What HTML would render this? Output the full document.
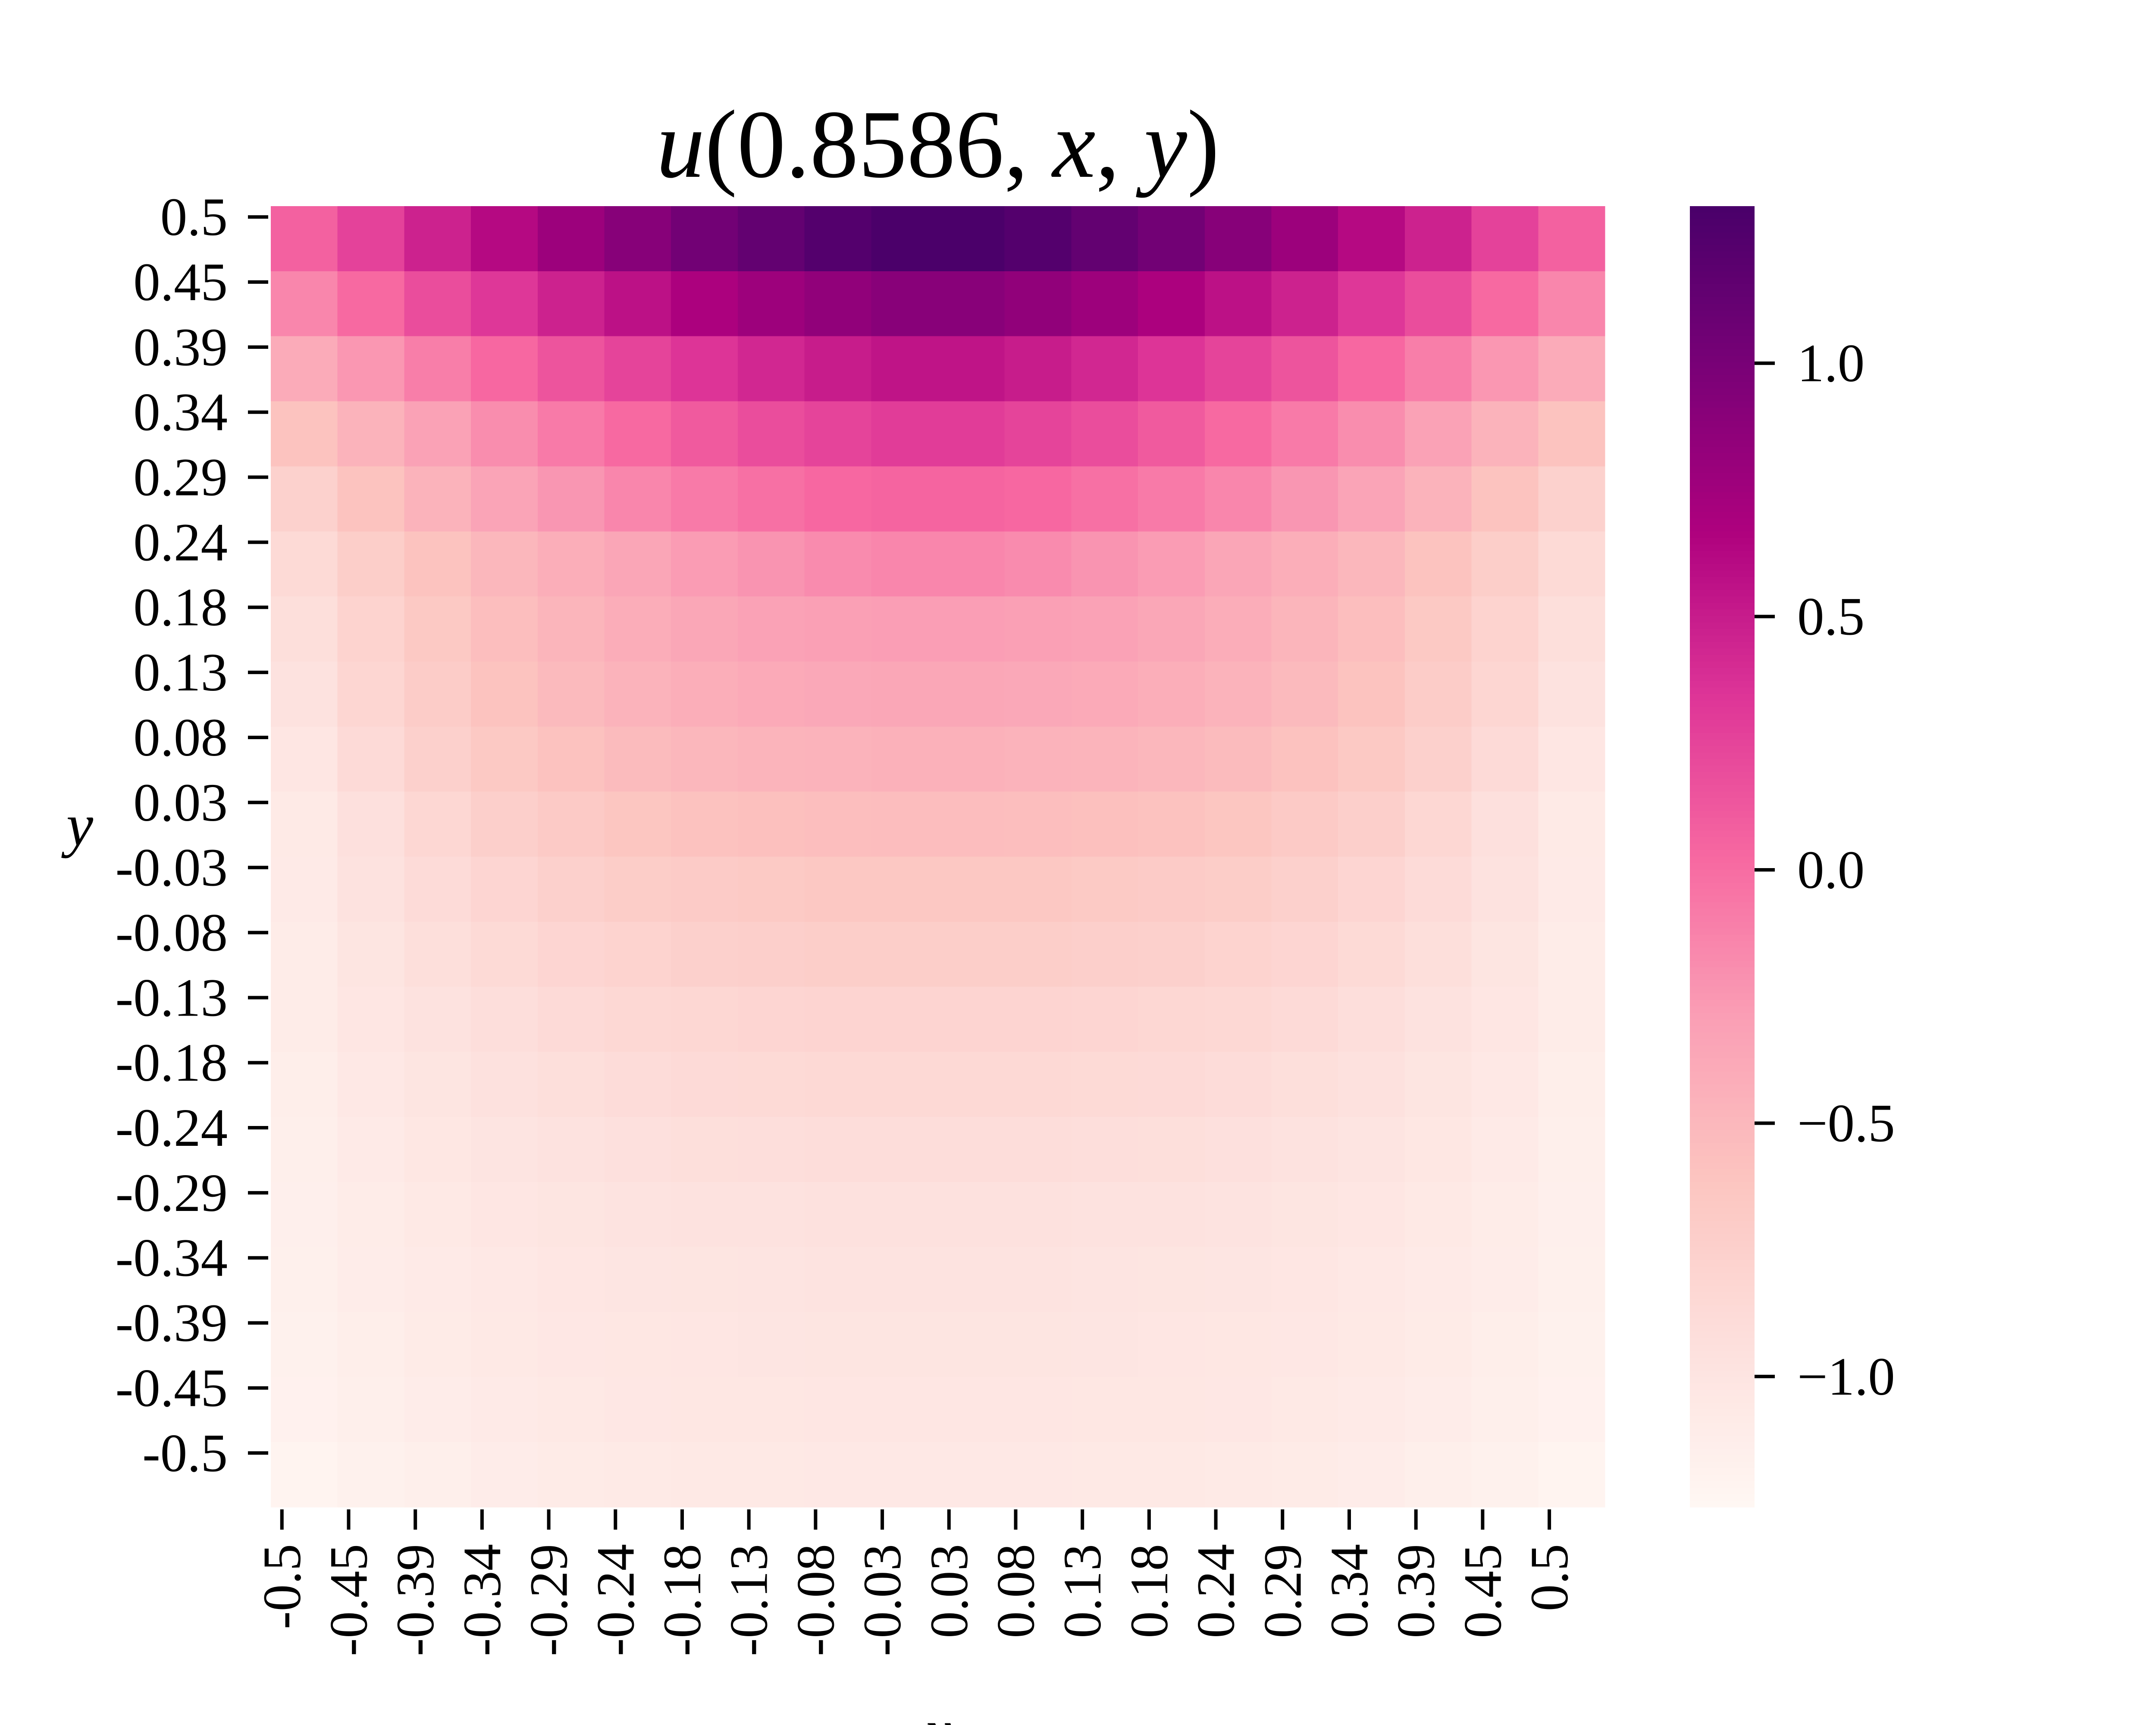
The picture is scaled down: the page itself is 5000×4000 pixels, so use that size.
<!DOCTYPE html>
<html><head><meta charset="utf-8">
<style>
html,body{margin:0;padding:0;background:#fff;}
svg{display:block;}
text{font-family:"Liberation Serif","DejaVu Serif",serif;fill:#000;}
</style></head>
<body>
<svg id="chart" width="5000" height="4000" viewBox="0 0 5000 4000" xmlns="http://www.w3.org/2000/svg">
<g id="cells" shape-rendering="crispEdges"></g>
<g id="cbar" shape-rendering="crispEdges"></g>
<g id="axes"></g>
<text x="2175" y="410" font-size="225" text-anchor="middle"><tspan font-style="italic">u</tspan>(0.8586, <tspan font-style="italic">x</tspan>, <tspan font-style="italic">y</tspan>)</text>
<text x="185" y="1960" font-size="140" font-style="italic" text-anchor="middle">y</text>
<text x="2175" y="4060" font-size="140" font-style="italic" text-anchor="middle">x</text>
</svg>
<script>
const xTickLabels = ["-0.5","-0.45","-0.39","-0.34","-0.29","-0.24","-0.18","-0.13","-0.08","-0.03","0.03","0.08","0.13","0.18","0.24","0.29","0.34","0.39","0.45","0.5"];
const yTickLabels = ["0.5","0.45","0.39","0.34","0.29","0.24","0.18","0.13","0.08","0.03","-0.03","-0.08","-0.13","-0.18","-0.24","-0.29","-0.34","-0.39","-0.45","-0.5"];
const cbarTicks = [1.0, 0.5, 0.0, -0.5, -1.0];
const cbarTickLabels = ["1.0","0.5","0.0","\u22120.5","\u22121.0"];
const vmin = -1.258, vmax = 1.31;
const grid = [
[0.07,0.26,0.46,0.62,0.78,0.91,1.04,1.14,1.24,1.3,1.3,1.24,1.14,1.04,0.91,0.78,0.62,0.46,0.26,0.07],
[-0.15,0.02,0.19,0.33,0.46,0.57,0.68,0.77,0.85,0.9,0.9,0.85,0.77,0.68,0.57,0.46,0.33,0.19,0.02,-0.15],
[-0.4,-0.25,-0.1,0.03,0.15,0.25,0.35,0.43,0.5,0.55,0.55,0.5,0.43,0.35,0.25,0.15,0.03,-0.1,-0.25,-0.4],
[-0.6,-0.46,-0.32,-0.19,-0.08,0.02,0.11,0.19,0.25,0.3,0.3,0.25,0.19,0.11,0.02,-0.08,-0.19,-0.32,-0.46,-0.6],
[-0.76,-0.6,-0.46,-0.34,-0.24,-0.15,-0.08,-0.02,0.03,0.05,0.05,0.03,-0.02,-0.08,-0.15,-0.24,-0.34,-0.46,-0.6,-0.76],
[-0.86,-0.72,-0.6,-0.5,-0.42,-0.35,-0.28,-0.23,-0.18,-0.15,-0.15,-0.18,-0.23,-0.28,-0.35,-0.42,-0.5,-0.6,-0.72,-0.86],
[-0.92,-0.78,-0.66,-0.56,-0.48,-0.41,-0.36,-0.32,-0.3,-0.29,-0.29,-0.3,-0.32,-0.36,-0.41,-0.48,-0.56,-0.66,-0.78,-0.92],
[-0.97,-0.82,-0.7,-0.6,-0.52,-0.46,-0.42,-0.39,-0.37,-0.36,-0.36,-0.37,-0.39,-0.42,-0.46,-0.52,-0.6,-0.7,-0.82,-0.97],
[-1.02,-0.87,-0.75,-0.66,-0.59,-0.53,-0.5,-0.47,-0.46,-0.45,-0.45,-0.46,-0.47,-0.5,-0.53,-0.59,-0.66,-0.75,-0.87,-1.02],
[-1.07,-0.94,-0.83,-0.74,-0.68,-0.63,-0.59,-0.57,-0.56,-0.55,-0.55,-0.56,-0.57,-0.59,-0.63,-0.68,-0.74,-0.83,-0.94,-1.07],
[-1.08,-0.97,-0.88,-0.81,-0.75,-0.71,-0.69,-0.67,-0.65,-0.65,-0.65,-0.65,-0.67,-0.69,-0.71,-0.75,-0.81,-0.88,-0.97,-1.08],
[-1.1,-1.0,-0.92,-0.86,-0.81,-0.78,-0.75,-0.74,-0.72,-0.72,-0.72,-0.72,-0.74,-0.75,-0.78,-0.81,-0.86,-0.92,-1.0,-1.1],
[-1.1,-1.02,-0.96,-0.91,-0.87,-0.84,-0.83,-0.81,-0.8,-0.8,-0.8,-0.8,-0.81,-0.83,-0.84,-0.87,-0.91,-0.96,-1.02,-1.1],
[-1.13,-1.05,-1.0,-0.95,-0.92,-0.89,-0.87,-0.86,-0.85,-0.85,-0.85,-0.85,-0.86,-0.87,-0.89,-0.92,-0.95,-1.0,-1.05,-1.13],
[-1.14,-1.08,-1.03,-0.99,-0.96,-0.94,-0.92,-0.91,-0.9,-0.9,-0.9,-0.9,-0.91,-0.92,-0.94,-0.96,-0.99,-1.03,-1.08,-1.14],
[-1.15,-1.1,-1.06,-1.02,-1.0,-0.98,-0.97,-0.96,-0.95,-0.95,-0.95,-0.95,-0.96,-0.97,-0.98,-1.0,-1.02,-1.06,-1.1,-1.15],
[-1.16,-1.11,-1.08,-1.05,-1.02,-1.01,-1.0,-0.99,-0.98,-0.98,-0.98,-0.98,-0.99,-1.0,-1.01,-1.02,-1.05,-1.08,-1.11,-1.16],
[-1.17,-1.13,-1.09,-1.06,-1.04,-1.03,-1.02,-1.01,-1.0,-1.0,-1.0,-1.0,-1.01,-1.02,-1.03,-1.04,-1.06,-1.09,-1.13,-1.17],
[-1.18,-1.14,-1.11,-1.08,-1.06,-1.04,-1.03,-1.03,-1.02,-1.02,-1.02,-1.02,-1.03,-1.03,-1.04,-1.06,-1.08,-1.11,-1.14,-1.18],
[-1.21,-1.17,-1.14,-1.11,-1.09,-1.07,-1.06,-1.06,-1.05,-1.05,-1.05,-1.05,-1.06,-1.06,-1.07,-1.09,-1.11,-1.14,-1.17,-1.21]
];

const NS = "http://www.w3.org/2000/svg";
const L = 628, R = 3722, T = 478, B = 3495;
const stops = ["#fff7f3","#fde0dd","#fcc5c0","#fa9fb5","#f768a1","#dd3497","#ae017e","#7a0177","#49006a"];
function hex(h){return [1,3,5].map(i=>parseInt(h.substr(i,2),16));}
const stopRGB = stops.map(hex);
function color(v){
  let t = (v - vmin) / (vmax - vmin);
  t = Math.max(0, Math.min(1, t));
  const p = t * (stopRGB.length - 1);
  const i = Math.min(stopRGB.length - 2, Math.floor(p));
  const f = p - i;
  const a = stopRGB[i], b = stopRGB[i+1];
  return "rgb(" + a.map((c,k)=>Math.round(c + (b[k]-c)*f)).join(",") + ")";
}
const nRows = grid.length, nCols = grid[0].length;
const xCell = (j)=> L + j * (R - L) / nCols;
const yCell = (i)=> T + i * (B - T) / nRows;
const nTx = xTickLabels.length, nTy = yTickLabels.length;
const xTick = (k)=> L + (k + 1/6) * (R - L) / nTx;
const yTick = (k)=> T + (k + 1/6) * (B - T) / nTy;
const CBL = 3919, CBR = 4069;
const cbY = (v)=> T + (vmax - v) / (vmax - vmin) * (B - T);

function mk(tag, attrs){const e=document.createElementNS(NS,tag);for(const k in attrs)e.setAttribute(k,attrs[k]);return e;}

const cells = document.getElementById("cells");
for (let i = 0; i < nRows; i++) {
  for (let j = 0; j < nCols; j++) {
    const r = mk("rect", {x: xCell(j), y: yCell(i), width: xCell(j+1)-xCell(j)+0.6, height: yCell(i+1)-yCell(i)+0.6, fill: color(grid[i][j])});
    
    
    cells.appendChild(r);
  }
}

const cbar = document.getElementById("cbar");
const nSeg = 200;
for (let s = 0; s < nSeg; s++) {
  const v0 = vmax - s * (vmax - vmin) / nSeg;
  const v1 = vmax - (s+1) * (vmax - vmin) / nSeg;
  const r = mk("rect", {x: CBL, y: cbY(v0), width: CBR-CBL, height: cbY(v1)-cbY(v0)+0.6, fill: color((v0+v1)/2)});
  
  
  cbar.appendChild(r);
}

const axes = document.getElementById("axes");
const FS = 125;
yTickLabels.forEach((lab, k) => {
  const y = yTick(k);
  const tk = mk("line", {x1: 575, x2: 622, y1: y, y2: y, stroke: "#000", "stroke-width": 8});
  
  
  axes.appendChild(tk);
  const t = mk("text", {x: 528, y: y + 42, "font-size": FS, "text-anchor": "end"});
  t.textContent = lab;
  
  
  axes.appendChild(t);
});
xTickLabels.forEach((lab, k) => {
  const x = xTick(k);
  const tk = mk("line", {x1: x, x2: x, y1: 3500, y2: 3547, stroke: "#000", "stroke-width": 8});
  
  
  axes.appendChild(tk);
  const t = mk("text", {x: 0, y: 0, "font-size": FS, "text-anchor": "end", transform: "translate(" + (x + 42) + ",3580) rotate(-90)"});
  t.textContent = lab;
  
  
  axes.appendChild(t);
});
cbarTicks.forEach((v, k) => {
  const y = cbY(v);
  const tk = mk("line", {x1: CBR, x2: CBR + 47, y1: y, y2: y, stroke: "#000", "stroke-width": 8});
  
  
  axes.appendChild(tk);
  const t = mk("text", {x: 4168, y: y + 42, "font-size": FS});
  t.textContent = cbarTickLabels[k];
  
  
  axes.appendChild(t);
});
</script>
</body></html>
